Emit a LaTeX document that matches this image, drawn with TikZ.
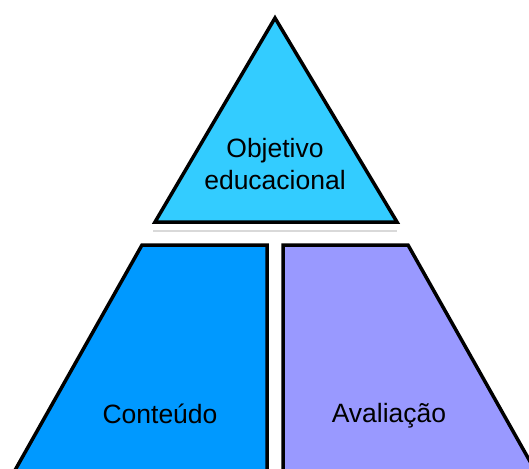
\documentclass[tikz,border=0pt]{standalone}
\usepackage{fontspec}
\setmainfont{Liberation Sans}
\usetikzlibrary{
	positioning,
	calc
}

\definecolor{cianotopo}{HTML}{33CCFF}
\definecolor{azulconteudo}{HTML}{0099FF}
\definecolor{lilasavaliacao}{HTML}{9999FF}

\begin{document}
\begin{tikzpicture}[
  x=1pt, y=-1pt,
  bloco/.style={draw=black, line width=3.5pt, line join=miter},
  rotulo/.style={font=\fontsize{26.5}{31}\selectfont, anchor=base, inner sep=0pt},
  sombra/.style={draw=black!15, line width=2pt}
]
\useasboundingbox (0,0) rectangle (529,468);
\clip (0,0) rectangle (529,468);
% sombra da base do triangulo
\draw[sombra] (153,231) -- (397,231);
% topo
\filldraw[bloco, fill=cianotopo] (275,18) -- (397,222) -- (155,222) -- cycle;
% base esquerda e direita
\filldraw[bloco, fill=azulconteudo] (142,245) -- (267,245) -- (267,472) -- (14,472) -- cycle;
\filldraw[bloco, fill=lilasavaliacao] (283,245) -- (408,245) -- (536,472) -- (283,472) -- cycle;
\node[rotulo] (objetivo) at (275,157) {Objetivo};
\node[rotulo] (educacional) at (275,189) {educacional};
\node[rotulo] (conteudo) at (160,423) {Conteúdo};
\node[rotulo] (avaliacao) at (389,422) {Avaliação};
\end{tikzpicture}
\end{document}
